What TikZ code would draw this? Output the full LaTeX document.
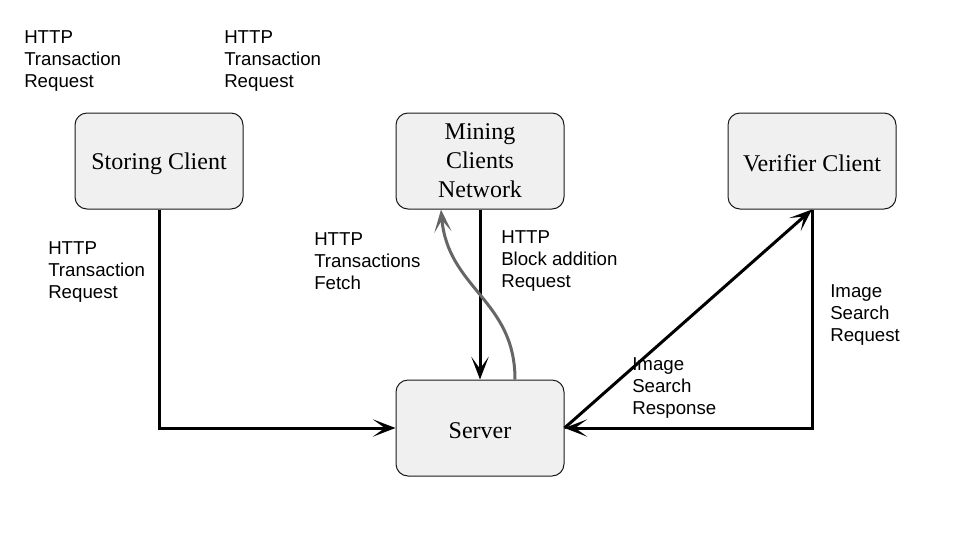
\documentclass[tikz,border=0pt]{standalone}
\usepackage{fontspec}
\setmainfont{Liberation Serif}
\setsansfont{Liberation Sans}
\usetikzlibrary{arrows.meta}

\definecolor{boxfill}{rgb}{0.94,0.94,0.94}
\definecolor{boxline}{rgb}{0.1,0.1,0.1}
\definecolor{darkgray}{rgb}{0.4,0.4,0.4}

\begin{document}
\begin{tikzpicture}[x=0.75pt,y=-0.75pt,
	box/.style={draw=boxline,line width=0.75pt,fill=boxfill,rounded corners=9pt,
		minimum width=126pt,minimum height=72pt,align=center,
		font=\fontsize{18}{21.75}\selectfont,
		execute at begin node={\rule{0pt}{16pt}}},
	lbl/.style={anchor=west,inner sep=0pt,align=left,
		font=\sffamily\fontsize{14}{16.5}\selectfont},
	link/.style={line width=2.25pt,-{Stealth[length=17pt,width=13pt,inset=9pt]}}]

	\useasboundingbox (0,0) rectangle (960,540);

	\node[box] at (159,161) (1) {Storing Client};
	\node[box] at (480,161) (2) {Mining\\Clients\\Network};
	\node[box] at (812,161) (3) {Verifier Client};
	\node[box] at (480,428) (4) {Server};

	\node[lbl] at (24,61) (5) {HTTP\\Transaction\\Request};
	\node[lbl] at (224,61) (6) {HTTP\\Transaction\\Request};
	\node[lbl] at (48,272) (7) {HTTP\\Transaction\\Request};
	\node[lbl] at (314,261) (8) {HTTP\\Transactions\\Fetch};
	\node[lbl] at (501,261) (9) {HTTP\\Block addition\\Request};
	\node[lbl] at (830,315) (10) {Image\\Search\\Request};
	\node[lbl] at (632,388) (11) {Image\\Search\\Response};

	\draw[link] (1.south) |- (4.west);
	\draw[link] (2.south) to (4.north);
	\draw[link,darkgray] ([xshift=26.25pt]4.north) to [out=90,in=-85,looseness=1.1]([xshift=-29.25pt]2.south);

	\draw[link] (4.east) to (3.south);
	\draw[link] (3.south) |- (4.east);
\end{tikzpicture}
\end{document}
